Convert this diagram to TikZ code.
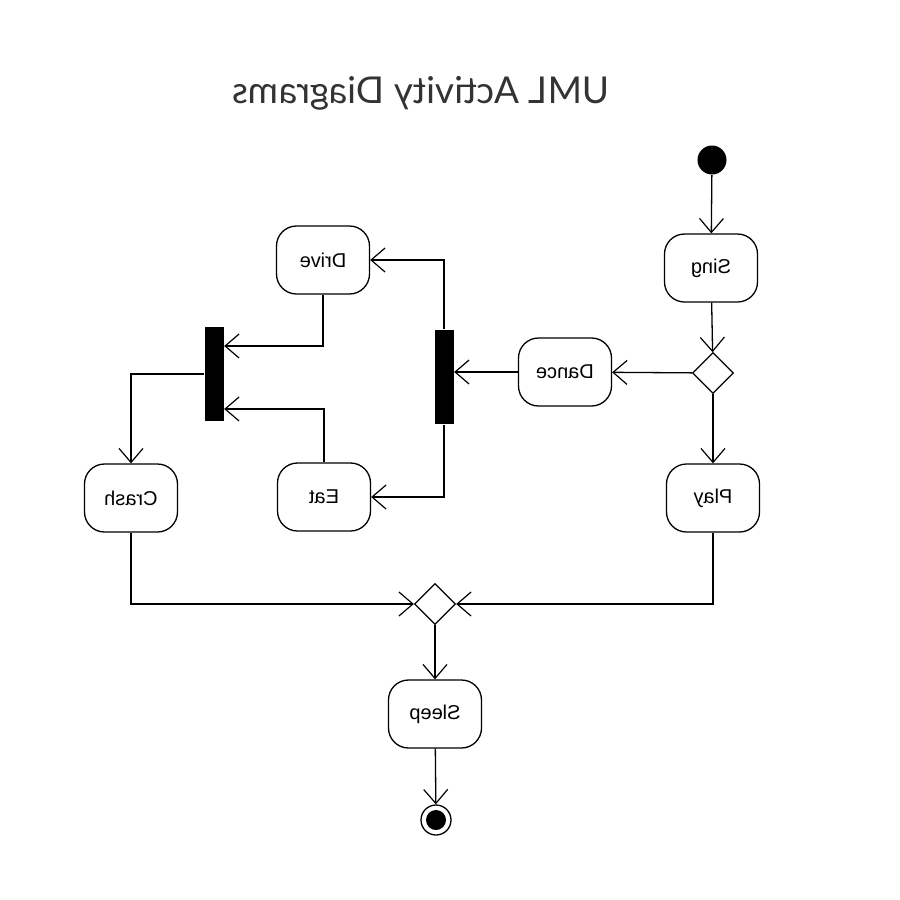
\documentclass[tikz,border=0pt]{standalone}
\usepackage{graphicx}
\usepackage{fontspec}
\setmainfont{Liberation Sans}
\newfontfamily\titlefont{Lato}
\usetikzlibrary{shapes.geometric, arrows.meta}
\newcommand{\flip}[1]{\reflectbox{#1}}

\begin{document}
\begin{tikzpicture}[x=1pt, y=-1pt, line width=1.3pt,
                    activity/.style={rectangle, rounded corners=20pt, draw, minimum width=93pt, minimum height=68pt, font=\fontsize{20}{24}\selectfont},
                    choice/.style={diamond, draw, aspect=1, minimum size=41pt, inner sep=0pt},
                    bar/.style={rectangle, fill=black, minimum width=19pt, minimum height=94pt, inner sep=0pt},
                    flow/.style={-{Straight Barb[length=14pt, width=24pt, line width=1.2pt]}}]
                    \useasboundingbox (0,0) rectangle (900,900);
                    \node[text=black!80] (title) at (421,93) {\titlefont\fontsize{37}{40}\selectfont\flip{UML Activity Diagrams}};
                    \node[circle, fill=black, minimum size=29pt, inner sep=0pt] (start) at (712,160) {};
                    \node[activity] (sing) at (711,268) {\flip{Sing}};
                    \node[choice] (split) at (713,373) {};
                    \node[activity] (dance) at (565,372) {\flip{Dance}};
                    \node[activity] (play) at (713,498) {\flip{Play}};
                    \node[bar] (fork) at (444,377) {};
                    \node[activity] (drive) at (323,260) {\flip{Drive}};
                    \node[activity] (eat) at (324,497) {\flip{Eat}};
                    \node[bar] (join) at (214,374) {};
                    \node[activity] (crash) at (131,498) {\flip{Crash}};
                    \node[choice] (merge) at (435,604) {};
                    \node[activity] (sleep) at (435,714) {\flip{Sleep}};
                    \node[circle, draw, minimum size=30pt, inner sep=0pt] (stop) at (436,820) {};
                    \fill (stop.center) circle (10pt);
                    \draw[flow] (start) -- (sing); \draw[flow] (sing) -- (split);
                    \draw[flow] (split) -- (dance); \draw[flow] (split) -- (play);
                    \draw[flow] (dance.west) -- (fork.east |- dance.west);
                    \draw[flow] (fork.north) |- (drive.east); \draw[flow] (fork.south) |- (eat.east);
                    \draw[flow] (drive.south) |- ([yshift=28pt]join.east); \draw[flow] (eat.north) |- ([yshift=-35pt]join.east);
                    \draw[flow] (join.west) -| (crash.north);
                    \draw[flow] (crash.south) |- (merge.west); \draw[flow] (play.south) |- (merge.east);
                    \draw[flow] (merge) -- (sleep); \draw[flow] (sleep) -- (stop);
                \end{tikzpicture}
\end{document}
